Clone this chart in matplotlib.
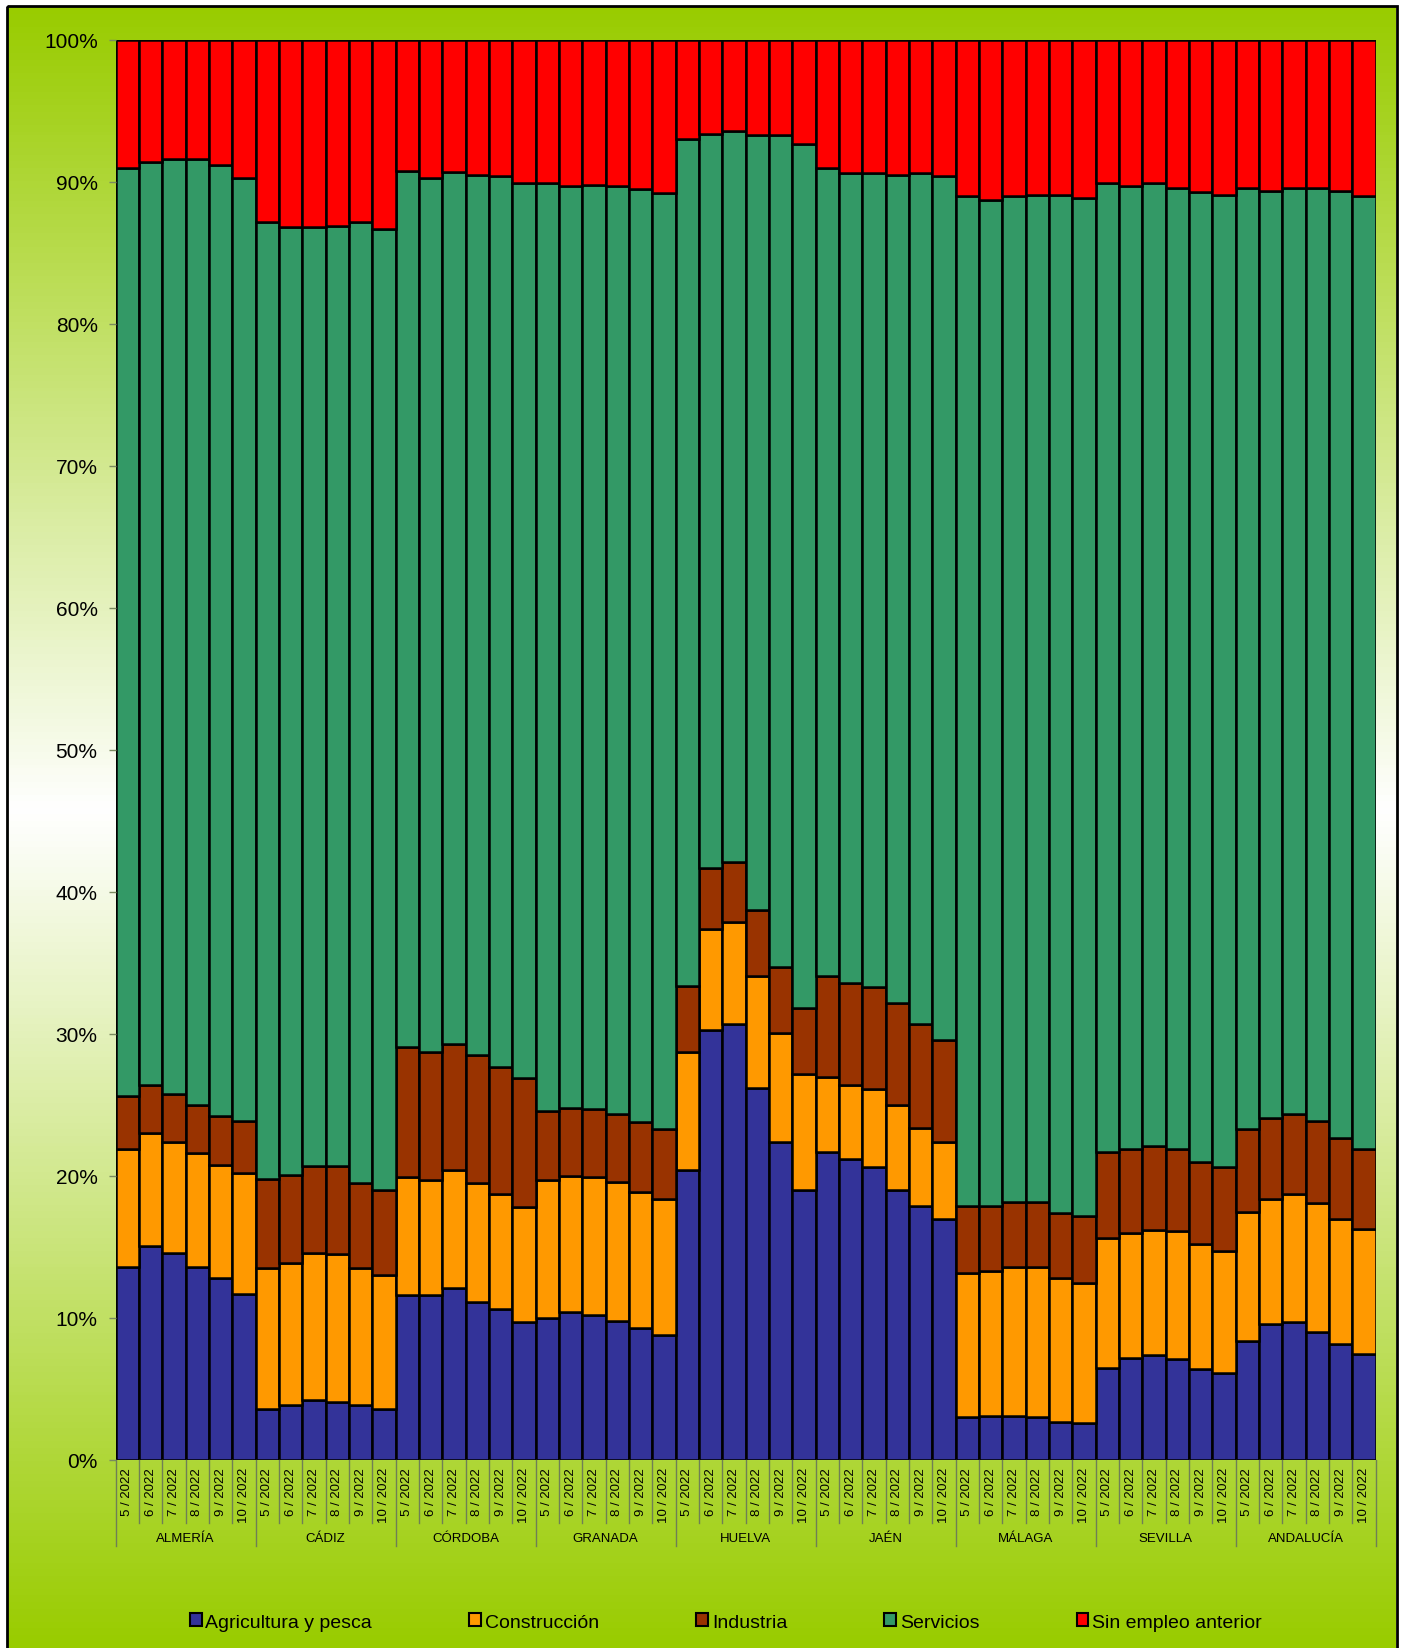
import numpy as np
import matplotlib.pyplot as plt
from matplotlib.patches import Patch, Rectangle
from matplotlib.colors import LinearSegmentedColormap

plt.rcParams['font.family'] = ['Liberation Sans', 'DejaVu Sans']

provinces = ["ALMERÍA", "CÁDIZ", "CÓRDOBA", "GRANADA", "HUELVA",
             "JAÉN", "MÁLAGA", "SEVILLA", "ANDALUCÍA"]
months = ["5 / 2022", "6 / 2022", "7 / 2022", "8 / 2022", "9 / 2022", "10 / 2022"]

# share of each sector (%), 6 months per province
agricultura = [13.6, 15.1, 14.6, 13.6, 12.8, 11.7,
               3.6, 3.9, 4.2, 4.1, 3.9, 3.6,
               11.6, 11.6, 12.1, 11.1, 10.6, 9.7,
               10.0, 10.4, 10.2, 9.8, 9.3, 8.8,
               20.4, 30.3, 30.7, 26.2, 22.4, 19.0,
               21.7, 21.2, 20.6, 19.0, 17.9, 17.0,
               3.0, 3.1, 3.1, 3.0, 2.7, 2.6,
               6.5, 7.2, 7.4, 7.1, 6.4, 6.1,
               8.4, 9.6, 9.7, 9.0, 8.2, 7.5]
construccion = [8.3, 7.9, 7.8, 8.0, 8.0, 8.5,
                9.9, 10.0, 10.4, 10.4, 9.6, 9.4,
                8.3, 8.1, 8.3, 8.4, 8.1, 8.1,
                9.7, 9.6, 9.7, 9.8, 9.6, 9.6,
                8.3, 7.1, 7.2, 7.9, 7.7, 8.2,
                5.3, 5.2, 5.5, 6.0, 5.5, 5.4,
                10.2, 10.2, 10.5, 10.6, 10.1, 9.9,
                9.1, 8.8, 8.8, 9.0, 8.8, 8.6,
                9.1, 8.8, 9.0, 9.1, 8.8, 8.8]
industria = [3.7, 3.4, 3.4, 3.4, 3.4, 3.7,
             6.3, 6.2, 6.1, 6.2, 6.0, 6.0,
             9.2, 9.0, 8.9, 9.0, 9.0, 9.1,
             4.9, 4.8, 4.8, 4.8, 4.9, 4.9,
             4.7, 4.3, 4.2, 4.6, 4.6, 4.6,
             7.1, 7.2, 7.2, 7.2, 7.3, 7.2,
             4.7, 4.6, 4.6, 4.6, 4.6, 4.7,
             6.1, 5.9, 5.9, 5.8, 5.8, 5.9,
             5.8, 5.7, 5.7, 5.8, 5.7, 5.6]
servicios = [65.4, 65.0, 65.8, 66.6, 67.0, 66.4,
             67.4, 66.7, 66.1, 66.2, 67.7, 67.7,
             61.7, 61.6, 61.4, 62.0, 62.7, 63.0,
             65.3, 64.9, 65.1, 65.3, 65.7, 65.9,
             59.6, 51.7, 51.5, 54.6, 58.6, 60.9,
             56.9, 57.0, 57.3, 58.3, 59.9, 60.8,
             71.1, 70.8, 70.8, 70.9, 71.7, 71.7,
             68.2, 67.8, 67.8, 67.7, 68.3, 68.5,
             66.3, 65.3, 65.2, 65.7, 66.7, 67.1]
sin_empleo = [9.0, 8.6, 8.4, 8.4, 8.8, 9.7,
              12.8, 13.2, 13.2, 13.1, 12.8, 13.3,
              9.2, 9.7, 9.3, 9.5, 9.6, 10.1,
              10.1, 10.3, 10.2, 10.3, 10.5, 10.8,
              7.0, 6.6, 6.4, 6.7, 6.7, 7.3,
              9.0, 9.4, 9.4, 9.5, 9.4, 9.6,
              11.0, 11.3, 11.0, 10.9, 10.9, 11.1,
              10.1, 10.3, 10.1, 10.4, 10.7, 10.9,
              10.4, 10.6, 10.4, 10.4, 10.6, 11.0]

series = [("Agricultura y pesca", agricultura, "#333399"),
          ("Construcción", construccion, "#ff9900"),
          ("Industria", industria, "#993300"),
          ("Servicios", servicios, "#339966"),
          ("Sin empleo anterior", sin_empleo, "#ff0000")]

W, H = 1402, 1649
fig = plt.figure(figsize=(W / 100, H / 100), dpi=100)

# background: green -> white -> green gradient inside a thin black frame
bg = fig.add_axes([0, 0, 1, 1], zorder=-10)
cmap = LinearSegmentedColormap.from_list(
    "bg", [(0, "#99cc00"), (0.49, "#ffffff"), (1, "#99cc00")])
grad = np.linspace(0, 1, 500)[:, None]
bg.imshow(grad, cmap=cmap, extent=[8, 1396, H, 8], aspect="auto", origin="upper")
bg.add_patch(Rectangle((7, 7), 1390, H + 10, fill=False, edgecolor="black", lw=2))
bg.set_xlim(0, W)
bg.set_ylim(H, 0)
bg.axis("off")

ax = fig.add_axes([115.7 / W, 1 - 1461 / H, 1260 / W, 1420 / H])
ax.patch.set_alpha(0)

n = len(provinces) * len(months)
x = np.arange(n)
bottom = np.zeros(n)
handles = []
for name, vals, color in series:
    vals = np.array(vals)
    ax.bar(x, vals, bottom=bottom, width=1.0, color=color,
           edgecolor="black", linewidth=1.8)
    bottom += vals
    handles.append(Patch(facecolor=color, edgecolor="black", linewidth=1.5, label=name))

ax.set_xlim(-0.5, n - 0.5)
ax.set_ylim(0, 100)
for s in ax.spines.values():
    s.set_visible(False)

ax.set_yticks(range(0, 101, 10))
ax.set_yticklabels([f"{v}%" for v in range(0, 101, 10)], fontsize=15)
ax.tick_params(axis="y", length=5, width=1, color="#7a8a60", pad=8)

ax.set_xticks(x)
ax.set_xticklabels(months * len(provinces), rotation=90, fontsize=9.5)
ax.tick_params(axis="x", length=0, pad=5)

# separator lines under the axis
trans = ax.get_xaxis_transform()
for b in np.arange(-0.5, n, 1.0):
    if int(b + 0.5) % len(months) == 0:
        ax.plot([b, b], [0, -86 / 1420], transform=trans, color="#6f7f55",
                lw=1, clip_on=False)
    else:
        ax.plot([b, b], [0, -63 / 1420], transform=trans, color="#6f7f55",
                lw=1, clip_on=False)

for i, p in enumerate(provinces):
    ax.text(i * len(months) + 2.5, -78 / 1420, p, transform=trans,
            ha="center", va="center", fontsize=9.5)

fig.legend(handles=handles, loc="center", bbox_to_anchor=(726 / W, 1 - 1623 / H),
           ncol=5, frameon=False, fontsize=14, columnspacing=5.0,
           handlelength=0.6, handleheight=0.6, handletextpad=0.2)

fig.savefig("out.png", dpi=100)
